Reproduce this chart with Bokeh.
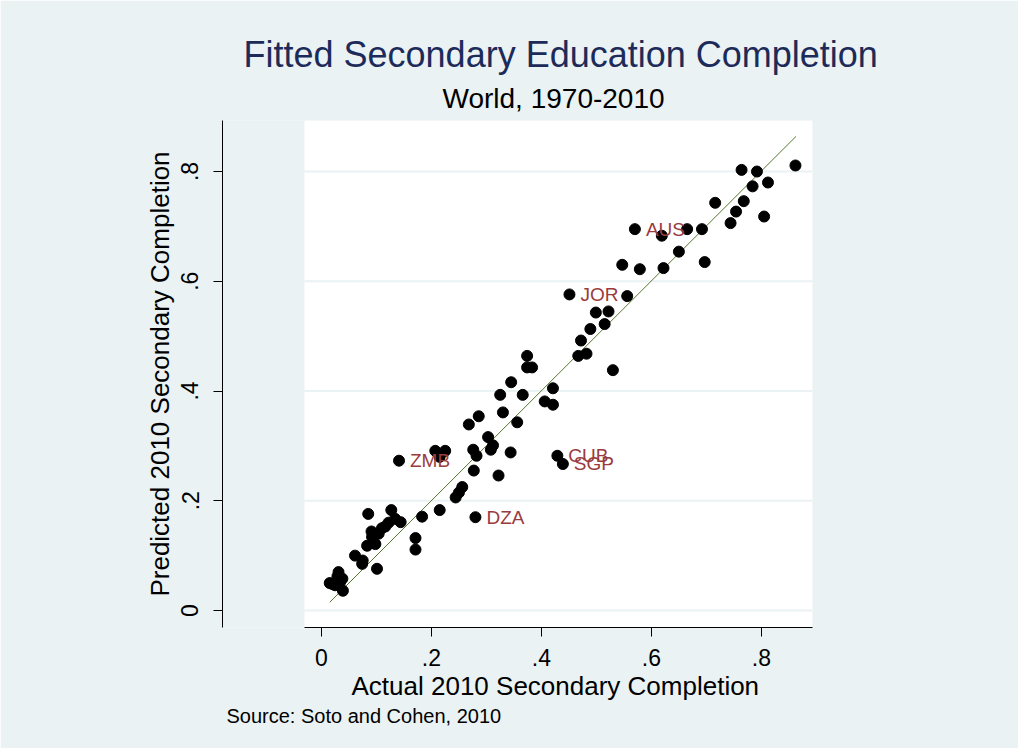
from bokeh.plotting import figure
from bokeh.models import Title, Range1d, FixedTicker, CustomJSTickFormatter, ColumnDataSource
from bokeh.core.properties import value
from bokeh.embed import file_html
from bokeh.resources import INLINE

# ---- data ----
actual = [0.862, 0.764, 0.792, 0.812, 0.784, 0.716, 0.768, 0.754, 0.744, 0.805,
          0.570, 0.619, 0.665, 0.692, 0.650, 0.547, 0.579, 0.622, 0.697, 0.451,
          0.556, 0.499, 0.522, 0.515, 0.489, 0.472, 0.467, 0.482, 0.530, 0.374,
          0.374, 0.383, 0.345, 0.325, 0.366, 0.421, 0.406, 0.421, 0.330, 0.356,
          0.268, 0.286, 0.303, 0.312, 0.308, 0.344, 0.276, 0.282, 0.277, 0.322,
          0.207, 0.225, 0.215, 0.141, 0.429, 0.439, 0.256, 0.244, 0.250, 0.215,
          0.183, 0.280, 0.085, 0.127, 0.144, 0.134, 0.116, 0.104, 0.092, 0.098,
          0.083, 0.171, 0.171, 0.061, 0.074, 0.101, 0.031, 0.015, 0.025, 0.038,
          0.039, 0.029, 0.091, 0.122, 0.110, 0.075, 0.020, 0.034]
predicted = [0.811, 0.803, 0.800, 0.780, 0.773, 0.743, 0.746, 0.727, 0.706, 0.718,
             0.695, 0.683, 0.695, 0.695, 0.654, 0.630, 0.622, 0.624, 0.635, 0.576,
             0.573, 0.543, 0.545, 0.522, 0.513, 0.492, 0.464, 0.468, 0.438, 0.464,
             0.443, 0.443, 0.416, 0.393, 0.393, 0.405, 0.381, 0.375, 0.361, 0.343,
             0.339, 0.354, 0.316, 0.301, 0.293, 0.288, 0.293, 0.282, 0.255, 0.246,
             0.291, 0.291, 0.280, 0.273, 0.282, 0.267, 0.225, 0.206, 0.215, 0.183,
             0.171, 0.170, 0.176, 0.183, 0.161, 0.167, 0.153, 0.140, 0.134, 0.121,
             0.118, 0.132, 0.111, 0.100, 0.085, 0.076, 0.070, 0.050, 0.046, 0.058,
             0.036, 0.062, 0.144, 0.160, 0.150, 0.091, 0.048, 0.052]
country_label = [""] * len(actual)
for idx, code in [(10, "AUS"), (19, "JOR"), (53, "ZMB"), (54, "CUB"), (55, "SGP"), (61, "DZA")]:
    country_label[idx] = code

fit_x = [0.015, 0.863]
fit_y = [0.015, 0.864]

tick_vals = [0, 0.2, 0.4, 0.6, 0.8]
tick_text = ["0", ".2", ".4", ".6", ".8"]

title_text = "Fitted Secondary Education Completion"
subtitle_text = "World, 1970-2010"
xlabel_text = "Actual 2010 Secondary Completion"
ylabel_text = "Predicted 2010 Secondary Completion"
note_text = "Source: Soto and Cohen, 2010"

# ---- styling ----
BG = "#eaf2f3"
FONT = "Liberation Sans"
LO, HI = -0.031, 0.893      # plot region extent (both axes)
XLEFT = -0.18               # room for the detached y axis

p = figure(width=1018, height=748, output_backend="svg", toolbar_location=None, tools="",
           x_range=Range1d(XLEFT, HI), y_range=Range1d(LO, HI),
           min_border_left=222, min_border_right=206, min_border_top=120, min_border_bottom=121,
           background_fill_color=BG, border_fill_color=BG, outline_line_color=None)
p.grid.visible = False

# white plot region and grid lines
p.quad(left=[LO], right=[HI], bottom=[LO], top=[HI], fill_color="white", line_color=None, level="image")
p.segment(x0=[LO] * len(tick_vals), x1=[HI] * len(tick_vals), y0=tick_vals, y1=tick_vals,
          line_color=BG, line_width=2, level="underlay")

# fitted line, points, labels
p.line(fit_x, fit_y, line_color="#55752f", line_width=1)
p.scatter(actual, predicted, size=11, fill_color="black", line_color="black")
lab_idx = [i for i, c in enumerate(country_label) if c]
lab_src = ColumnDataSource(dict(x=[actual[i] for i in lab_idx], y=[predicted[i] for i in lab_idx],
                                t=[country_label[i] for i in lab_idx]))
p.text(x="x", y="y", text="t", source=lab_src, x_offset=11, text_baseline="middle",
       text_font=value(FONT), text_font_size="19px", text_color="#9a3b3e")

fmt = CustomJSTickFormatter(args=dict(vals=tick_vals, labs=tick_text), code="""
    for (let i = 0; i < vals.length; i++) { if (Math.abs(vals[i] - tick) < 1e-9) return labs[i]; }
    return "";
""")

for ax in (p.xaxis[0], p.yaxis[0]):
    ax.ticker = FixedTicker(ticks=tick_vals)
    ax.formatter = fmt
    ax.minor_tick_line_color = None
    ax.major_tick_in = 0
    ax.major_tick_out = 9
    ax.major_label_text_font = FONT
    ax.major_label_text_font_size = "23px"
    ax.major_label_text_color = "black"
    ax.axis_line_color = "black"
    ax.axis_line_width = 1
    ax.major_tick_line_color = "black"

p.xaxis[0].bounds = (LO, HI)
p.yaxis[0].bounds = (LO, HI)
p.xaxis[0].major_label_standoff = 12
p.yaxis[0].major_label_standoff = 15
p.yaxis[0].major_label_orientation = "vertical"
p.yaxis[0].axis_label = ylabel_text
p.yaxis[0].axis_label_text_font = FONT
p.yaxis[0].axis_label_text_font_size = "26px"
p.yaxis[0].axis_label_text_font_style = "normal"
p.yaxis[0].axis_label_text_color = "black"
p.yaxis[0].axis_label_standoff = 4

# titles above (added closest-first)
p.add_layout(Title(text=subtitle_text, align="left", offset=220, text_font=FONT,
                   text_font_size="28px", text_font_style="normal", text_color="black",
                   standoff=13), "above")
p.add_layout(Title(text=title_text, align="left", offset=21, text_font=FONT,
                   text_font_size="36px", text_font_style="normal", text_color="#1c2b5a",
                   standoff=0), "above")

# below: axis title and note
p.add_layout(Title(text=xlabel_text, align="left", offset=129, text_font=FONT,
                   text_font_size="26px", text_font_style="normal", text_color="black",
                   standoff=0), "below")
p.add_layout(Title(text=note_text, align="left", offset=4, text_font=FONT,
                   text_font_size="20px", text_font_style="normal", text_color="black",
                   standoff=4), "below")

open("out.html", "w").write(file_html(p, INLINE))
